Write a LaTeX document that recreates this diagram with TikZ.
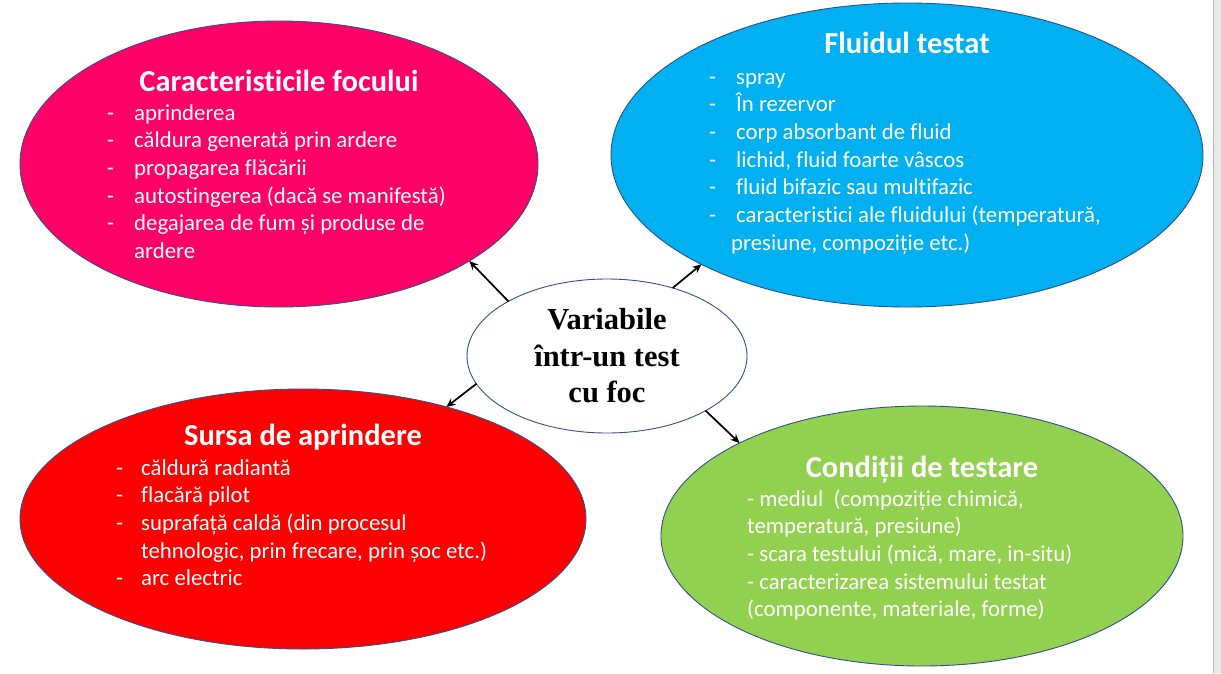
\documentclass[tikz,border=0pt]{standalone}
\usepackage{fontspec}
\setmainfont{Carlito}[Ligatures=NoCommon]
\newfontfamily\serifbold{Liberation Serif}
\usetikzlibrary{positioning}
\usetikzlibrary{shapes.geometric}
\usetikzlibrary{arrows.meta}
\definecolor{firepink}{RGB}{255,0,102}
\definecolor{fluidblue}{RGB}{0,176,240}
\definecolor{sourcered}{RGB}{255,0,0}
\definecolor{condgreen}{RGB}{146,208,80}
\definecolor{rimblue}{RGB}{47,82,143}
\newcommand{\itm}[2][27pt]{\makebox[#1][l]{-}#2}

\begin{document}
\begin{tikzpicture}[x=1pt, y=-1pt,
  bubble/.style={draw=rimblue, line width=0.9pt, ellipse, inner sep=0pt, outer sep=0pt},
  headtext/.style={text=white, font=\fontsize{30.5}{36}\selectfont\bfseries, anchor=base, inner sep=0pt},
  itemtext/.style={text=white, font=\fontsize{22.8}{27.7}\selectfont, align=left, anchor=base west, inner sep=0pt},
  arrow/.style={-{Stealth[length=9pt,width=8pt]}, line width=1.7pt}]
		\fill[white] (0,0) rectangle (1221,673);
		\useasboundingbox (0,0) rectangle (1221,673);
		\fill[gray!18] (1213,0) rectangle (1221,673);
		\draw[gray!55, line width=1pt] (1213.5,0) -- (1213.5,673);
		% Nodes
		\node[bubble, fill=firepink, minimum width=518, minimum height=286] (fire) at (279,164) {};
		\node[bubble, fill=fluidblue, minimum width=592, minimum height=304] (fluid) at (907,155) {};
		\node[bubble, fill=sourcered, minimum width=566, minimum height=260] (source) at (303,519) {};
		\node[bubble, fill=condgreen, minimum width=522, minimum height=260] (cond) at (922,536) {};
		\node[bubble, fill=white, minimum width=280, minimum height=154, align=center,
		  font=\serifbold\fontsize{30.5}{36.5}\selectfont\bfseries] (var) at (607,356)
		  {Variabile\\într-un test\\cu foc};
		% Arrows
		\draw[arrow] (var.151) -- (fire.-27.4);
		\draw[arrow] (var.46.3) -- (fluid.-152.6);
		\draw[arrow] (var.-168) -- (source.38.3);
		\draw[arrow] (var.-29.7) -- (cond.153.3);
		% Labels (lists sit on the baseline of their last line)
		\node[headtext] (firehead) at (279,91) {Caracteristicile focului};
		\node[itemtext] (firelist) at (107,258.5) {\itm{aprinderea}\\
		  \itm{căldura generată prin ardere}\\
		  \itm{propagarea flăcării}\\
		  \itm{autostingerea (dacă se manifestă)}\\
		  \itm{degajarea de fum și produse de}\\
		  \hspace*{27pt}ardere};
		\node[headtext] (fluidhead) at (907,53) {Fluidul testat};
		\node[itemtext] (fluidlist) at (709,250.2) {\itm{spray}\\
		  \itm{În rezervor}\\
		  \itm{corp absorbant de fluid}\\
		  \itm{lichid, fluid foarte vâscos}\\
		  \itm{fluid bifazic sau multifazic}\\
		  \itm{caracteristici ale fluidului (temperatură,}\\
		  \hspace*{22pt}presiune, compoziție etc.)};
		\node[headtext] (sourcehead) at (303,445) {Sursa de aprindere};
		\node[itemtext] (sourcelist) at (116,585.8) {\itm[25pt]{căldură radiantă}\\
		  \itm[25pt]{flacără pilot}\\
		  \itm[25pt]{suprafață caldă (din procesul}\\
		  \hspace*{25pt}tehnologic, prin frecare, prin șoc etc.)\\
		  \itm[25pt]{arc electric}};
		\node[headtext] (condhead) at (922,477) {Condiții de testare};
		\node[itemtext] (condlist) at (747,616.8) {- mediul\ \ (compoziție chimică,\\
		  temperatură, presiune)\\
		  - scara testului (mică, mare, in-situ)\\
		  - caracterizarea sistemului testat\\
		  (componente, materiale, forme)};
	\end{tikzpicture}
\end{document}
